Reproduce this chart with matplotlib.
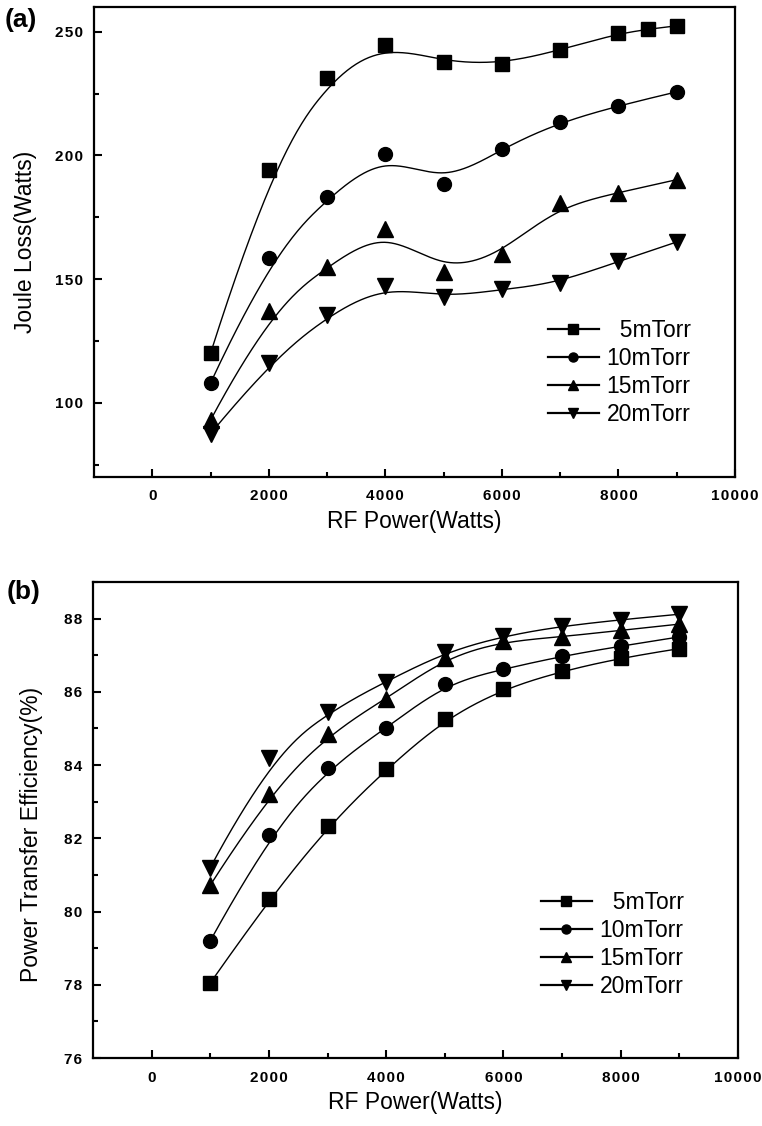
import numpy as np
import matplotlib
matplotlib.use('Agg')
import matplotlib.pyplot as plt
from matplotlib.ticker import MultipleLocator, FixedLocator, FuncFormatter
from matplotlib.lines import Line2D

plt.rcParams['font.family'] = ['Liberation Sans', 'DejaVu Sans']

# ---------------- data ----------------
power = [1000, 2000, 3000, 4000, 5000, 6000, 7000, 8000, 9000]
power_5 = [1000, 2000, 3000, 4000, 5000, 6000, 7000, 8000, 8500, 9000]

joule_5 = [120, 194, 231.5, 244.7, 237.8, 237.0, 242.6, 249.4, 251.0, 252.4]
joule_10 = [108, 158.5, 183, 200.7, 188.6, 202.7, 213.7, 220.1, 225.7]
joule_15 = [93, 137, 155, 170.3, 153.0, 160.2, 180.8, 184.8, 190.2]
joule_20 = [87.5, 116, 135.5, 147.2, 142.6, 145.8, 148.4, 157.2, 165.0]

eff_5 = [78.05, 80.33, 82.33, 83.88, 85.26, 86.08, 86.57, 86.93, 87.18]
eff_10 = [79.2, 82.1, 83.92, 85.0, 86.22, 86.62, 86.98, 87.25, 87.5]
eff_15 = [80.72, 83.22, 84.85, 85.8, 86.93, 87.38, 87.5, 87.68, 87.85]
eff_20 = [81.2, 84.18, 85.45, 86.28, 87.08, 87.52, 87.8, 87.97, 88.12]

labels = ['  5mTorr', '10mTorr', '15mTorr', '20mTorr']
markers = ['s', 'o', '^', 'v']
msizes = [9.5, 10, 12, 12]


def bspline(x, y, num=400, k=3):
    """Clamped uniform cubic B-spline using the data points as control points."""
    P = np.column_stack([x, y]).astype(float)
    m = len(P)
    knots = np.concatenate([np.zeros(k + 1), np.arange(1, m - k),
                            np.full(k + 1, m - k)]).astype(float)
    ts = np.linspace(0, m - k, num)
    out = []
    for t in ts:
        if t >= knots[m]:
            idx = m - 1
        else:
            idx = np.searchsorted(knots, t, side='right') - 1
        idx = min(max(idx, k), m - 1)
        d = [P[j + idx - k].copy() for j in range(k + 1)]
        for r in range(1, k + 1):
            for j in range(k, r - 1, -1):
                lo = knots[j + idx - k]
                hi = knots[j + 1 + idx - r]
                alpha = (t - lo) / (hi - lo) if hi != lo else 0.0
                d[j] = (1 - alpha) * d[j - 1] + alpha * d[j]
        out.append(d[k])
    out = np.array(out)
    return out[:, 0], out[:, 1]


W, H = 762, 1126
fig = plt.figure(figsize=(W / 100, H / 100), dpi=100)

def ax_rect(l, t, r, b):
    return [l / W, 1 - b / H, (r - l) / W, (b - t) / H]

ax1 = fig.add_axes(ax_rect(94, 7, 735, 477))
ax2 = fig.add_axes(ax_rect(93, 582, 738, 1058))

spaced = FuncFormatter(lambda v, p: '\u200a'.join(str(int(round(v)))))


def style(ax, ylim, ymajor, yminor):
    ax.set_xlim(-1000, 10000)
    ax.set_ylim(*ylim)
    ax.xaxis.set_major_locator(MultipleLocator(2000))
    ax.xaxis.set_minor_locator(FixedLocator([1000, 3000, 5000, 7000, 9000]))
    ax.yaxis.set_major_locator(MultipleLocator(ymajor))
    ax.yaxis.set_minor_locator(MultipleLocator(yminor))
    ax.xaxis.set_major_formatter(spaced)
    ax.yaxis.set_major_formatter(spaced)
    ax.tick_params(which='both', direction='in', top=False, right=False, width=1.5)
    ax.tick_params(which='major', length=6)
    ax.tick_params(which='minor', length=3.5)
    ax.tick_params(axis='x', pad=9)
    ax.tick_params(axis='y', pad=8)
    ax.tick_params(labelsize=11)
    for lab in ax.get_xticklabels() + ax.get_yticklabels():
        lab.set_fontweight('bold')
    for s in ax.spines.values():
        s.set_linewidth(1.6)
    ax.set_xlabel('RF Power(Watts)', fontsize=16.5, labelpad=5)


def legend(ax, anchor):
    handles = [Line2D([], [], color='black', lw=1.6, marker=mk, markersize=6.5)
               for mk in markers]
    ax.legend(handles, labels, loc='upper left', bbox_to_anchor=anchor,
              frameon=False, fontsize=16.5, handlelength=2.2, handletextpad=0.35,
              labelspacing=0.22, borderaxespad=0)


# ---- panel (a)
for xs, ys, mk, ms in zip([power_5, power, power, power],
                          [joule_5, joule_10, joule_15, joule_20], markers, msizes):
    bx, by = bspline(xs, ys)
    ax1.plot(bx, by, color='black', lw=1.0)
    ax1.plot(xs, ys, ls='none', marker=mk, ms=ms, color='black')
style(ax1, (70, 260), 50, 25)
ax1.set_ylabel('Joule Loss(Watts)', fontsize=16.5)
ax1.yaxis.set_label_coords((37 - 94) / 641, 0.5)
legend(ax1, ((539 - 94) / 641, (477 - 310) / 470))

# ---- panel (b)
for xs, ys, mk, ms in zip([power] * 4, [eff_5, eff_10, eff_15, eff_20], markers, msizes):
    bx, by = bspline(xs, ys)
    ax2.plot(bx, by, color='black', lw=1.0)
    ax2.plot(xs, ys, ls='none', marker=mk, ms=ms, color='black')
style(ax2, (76, 89), 2, 1)
ax2.set_ylabel('Power Transfer Efficiency(%)', fontsize=16.5)
ax2.yaxis.set_label_coords((43 - 93) / 645, (1058 - 834) / 476)
legend(ax2, ((532 - 93) / 645, (1058 - 882) / 476))

fig.text(5 / W, 1 - 8 / H, '(a)', fontsize=19, fontweight='bold', va='top', ha='left')
fig.text(7 / W, 1 - 580 / H, '(b)', fontsize=19, fontweight='bold', va='top', ha='left')

fig.savefig('out.png', dpi=100)
